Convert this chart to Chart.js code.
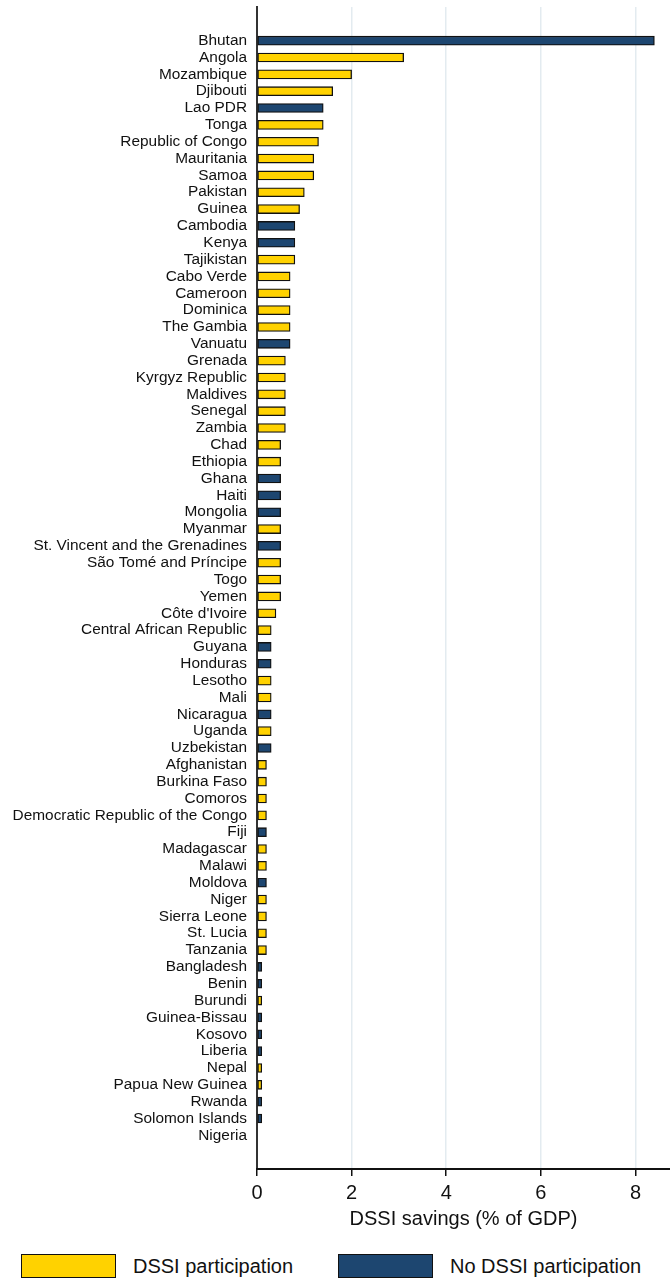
<!DOCTYPE html>
<html>
<head>
<meta charset="utf-8">
<script src="https://cdn.jsdelivr.net/npm/chart.js@4/dist/chart.umd.min.js"></script>
<style>
  body { margin: 0; background: #fff; font-family: "Liberation Sans", Arial, sans-serif; }
  .wrap { position: relative; width: 670px; height: 1282px; }
  #savingsChart { position: absolute; left: 0; top: 0; }
  .legend_item { position: absolute; top: 1254px; height: 25px; }
  .legend_box { position: absolute; top: 0; width: 93px; height: 22px; border: 1.5px solid #111; }
  .legend_text { position: absolute; top: 0; line-height: 25px; font-size: 20px; color: #111; white-space: nowrap; }
</style>
</head>
<body>
<div class="wrap">
  <canvas id="savingsChart" width="670" height="1231"></canvas>
  <div id="legend"></div>
</div>
<script>
// countries in the order they are plotted (top to bottom)
const countries = [
  "Bhutan", "Angola", "Mozambique", "Djibouti", "Lao PDR", "Tonga", "Republic of Congo",
  "Mauritania", "Samoa", "Pakistan", "Guinea", "Cambodia", "Kenya", "Tajikistan",
  "Cabo Verde", "Cameroon", "Dominica", "The Gambia", "Vanuatu", "Grenada",
  "Kyrgyz Republic", "Maldives", "Senegal", "Zambia", "Chad", "Ethiopia", "Ghana",
  "Haiti", "Mongolia", "Myanmar", "St. Vincent and the Grenadines",
  "São Tomé and Príncipe", "Togo", "Yemen", "Côte d'Ivoire", "Central African Republic",
  "Guyana", "Honduras", "Lesotho", "Mali", "Nicaragua", "Uganda", "Uzbekistan",
  "Afghanistan", "Burkina Faso", "Comoros", "Democratic Republic of the Congo", "Fiji",
  "Madagascar", "Malawi", "Moldova", "Niger", "Sierra Leone", "St. Lucia", "Tanzania",
  "Bangladesh", "Benin", "Burundi", "Guinea-Bissau", "Kosovo", "Liberia", "Nepal",
  "Papua New Guinea", "Rwanda", "Solomon Islands", "Nigeria"
];

// DSSI savings, % of GDP
const savings = [
  8.4, 3.1, 2.0, 1.6, 1.4, 1.4, 1.3,
  1.2, 1.2, 1.0, 0.9, 0.8, 0.8, 0.8,
  0.7, 0.7, 0.7, 0.7, 0.7, 0.6,
  0.6, 0.6, 0.6, 0.6, 0.5, 0.5, 0.5,
  0.5, 0.5, 0.5, 0.5,
  0.5, 0.5, 0.5, 0.4, 0.3,
  0.3, 0.3, 0.3, 0.3, 0.3, 0.3, 0.3,
  0.2, 0.2, 0.2, 0.2, 0.2,
  0.2, 0.2, 0.2, 0.2, 0.2, 0.2, 0.2,
  0.1, 0.1, 0.1, 0.1, 0.1, 0.1, 0.1,
  0.1, 0.1, 0.1, 0
];

// 1 = took part in DSSI, 0 = did not
const participated = [
  0, 1, 1, 1, 0, 1, 1,
  1, 1, 1, 1, 0, 0, 1,
  1, 1, 1, 1, 0, 1,
  1, 1, 1, 1, 1, 1, 0,
  0, 0, 1, 0,
  1, 1, 1, 1, 1,
  0, 0, 1, 1, 0, 1, 0,
  1, 1, 1, 1, 0,
  1, 1, 0, 1, 1, 1, 1,
  0, 0, 1, 0, 0, 0, 1,
  1, 0, 0, 0
];

const groupNames = ["DSSI participation", "No DSSI participation"];
const groupColors = ["#ffd200", "#1d4670"];

// split the rows into the two series
function pointsFor(flag) {
  let pts = [];
  countries.forEach((c, i) => {
    if (participated[i] === flag) pts.push({ x: savings[i], y: i });
  });
  return pts;
}

const datasets = [
  { label: groupNames[0], data: pointsFor(1), backgroundColor: groupColors[0] },
  { label: groupNames[1], data: pointsFor(0), backgroundColor: groupColors[1] }
].map(d => Object.assign(d, { borderColor: "#111", borderWidth: 1.3, borderSkipped: false, barThickness: 9 }));

const ctx = document.getElementById("savingsChart").getContext("2d");

new Chart(ctx, {
  type: "bar",
  data: { datasets: datasets },
  options: {
    indexAxis: "y",
    responsive: false,
    animation: false,
    grouped: false,
    layout: { padding: { top: 7, right: 0, left: 0, bottom: 0 } },
    plugins: { legend: { display: false }, tooltip: { enabled: false } },
    scales: {
      y: {
        type: "linear",
        reverse: true,
        offset: false,
        min: -2,
        max: 67,
        grid: { display: false, drawTicks: false, offset: false },
        border: { display: true, color: "#333", width: 2 },
        ticks: {
          stepSize: 1,
          autoSkip: false,
          padding: 10,
          color: "#111",
          font: { family: "'Liberation Sans', Arial, sans-serif", size: 15.4 },
          callback: v => countries[v] !== undefined ? countries[v] : ""
        },
        // fixed label column, no extra room above/below the plot
        afterFit: s => { s.width = 257; s.paddingTop = 0; s.paddingBottom = 0; }
      },
      x: {
        type: "linear",
        min: 0,
        max: 8.73,
        grid: { color: "#e3ebf0", lineWidth: 1.5, tickColor: "#111", tickLength: 7 },
        border: { display: true, color: "#111", width: 2 },
        ticks: {
          stepSize: 2,
          includeBounds: false,
          padding: 5,
          color: "#111",
          font: { family: "'Liberation Sans', Arial, sans-serif", size: 20 }
        },
        title: {
          display: true,
          text: "DSSI savings (% of GDP)",
          color: "#111",
          padding: { top: -3, bottom: 0 },
          font: { family: "'Liberation Sans', Arial, sans-serif", size: 20 }
        }
      }
    }
  }
});

// legend under the chart, built from the datasets
const legend = document.getElementById("legend");
const legendLeft = [21, 338];
datasets.forEach((d, i) => {
  let item = document.createElement("div");
  item.className = "legend_item";
  item.style.left = legendLeft[i] + "px";
  item.innerHTML = `<div class="legend_box" style="background:${d.backgroundColor}"></div>` +
                   `<div class="legend_text" style="left:112px">${d.label}</div>`;
  legend.appendChild(item);
});
</script>
</body>
</html>
